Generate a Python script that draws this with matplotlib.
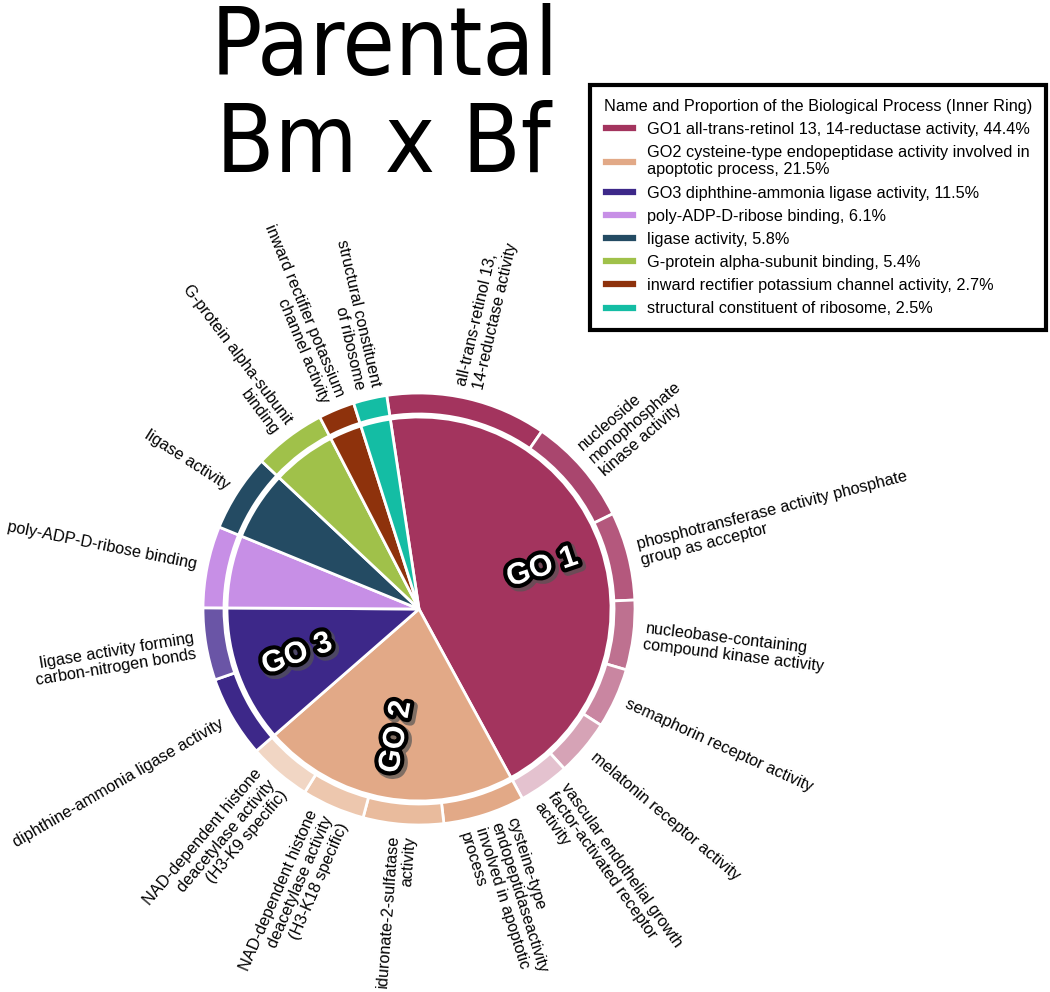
import numpy as np
import matplotlib
matplotlib.use("Agg")
import matplotlib.pyplot as plt
import matplotlib.patheffects as pe
from matplotlib.lines import Line2D
from matplotlib import font_manager

# inner ring: biological process groups (percent of total)
inner_labels = [
    "GO1 all-trans-retinol 13, 14-reductase activity",
    "GO2 cysteine-type endopeptidase activity involved in\napoptotic process",
    "GO3 diphthine-ammonia ligase activity",
    "poly-ADP-D-ribose binding",
    "ligase activity",
    "G-protein alpha-subunit binding",
    "inward rectifier potassium channel activity",
    "structural constituent of ribosome",
]
inner_values = [44.4, 21.5, 11.5, 6.1, 5.8, 5.4, 2.7, 2.5]
inner_colors = ["#A3345E", "#E2A987", "#3D2889", "#C78FE6",
                "#244B63", "#A0C14A", "#8E320C", "#14BDA4"]
go_tags = ["GO 1", "GO 2", "GO 3"]

# outer ring: terms inside each group
outer_labels = [
    "all-trans-retinol 13,\n14-reductase activity",
    "nucleoside\nmonophosphate\nkinase activity",
    "phosphotransferase activity phosphate\ngroup as acceptor",
    "nucleobase-containing\ncompound kinase activity",
    "semaphorin receptor activity",
    "melatonin receptor activity",
    "vascular endothelial growth\nfactor-activated receptor\nactivity",
    "cysteine-type\nendopeptidaseactivity\ninvolved in apoptotic\nprocess",
    "iduronate-2-sulfatase\nactivity",
    "NAD-dependent histone\ndeacetylase activity\n(H3-K18 specific)",
    "NAD-dependent histone\ndeacetylase activity\n(H3-K9 specific)",
    "diphthine-ammonia ligase activity",
    "ligase activity forming\ncarbon-nitrogen bonds",
    "poly-ADP-D-ribose binding",
    "ligase activity",
    "G-protein alpha-subunit\nbinding",
    "inward rectifier potassium\nchannel activity",
    "structural constituent\nof ribosome",
]
outer_values = [12.0, 8.1, 6.6, 5.2, 4.5, 4.2, 3.8,
                6.1, 6.0, 4.7, 4.7,
                6.1, 5.4,
                6.1, 5.8, 5.4, 2.7, 2.5]
outer_colors = ["#A3345E", "#A9466E", "#B4587D", "#BE7190", "#C986A1", "#D6A3B6", "#E4C2CF",
                "#E2A987", "#E9BB9D", "#EDC7AE", "#F1D6C4",
                "#3D2889", "#6A55A6",
                "#C78FE6", "#244B63", "#A0C14A", "#8E320C", "#14BDA4"]

START = 98.6
W, H = 1050, 992
CX, CY = 419, H - 609

names = {f.name for f in font_manager.fontManager.ttflist}
BASE = "Liberation Sans" if "Liberation Sans" in names else "DejaVu Sans"
plt.rcParams["font.family"] = [BASE, "DejaVu Sans"]


def narrow_font():
    # look for a condensed sans face for the squeezed title
    best = None
    for f in font_manager.fontManager.ttflist:
        if f.style != "normal" or f.weight not in (400, "normal", "regular"):
            continue
        tag = (f.name + " " + str(f.stretch)).lower()
        if "mono" in tag or "serif" in tag and "sans" not in tag:
            continue
        if f.name == "Liberation Sans Narrow":
            return f.fname
        if ("narrow" in tag or "condensed" in tag) and best is None:
            best = f.fname
    return best


def mid_angles(values):
    total = sum(values)
    cum = np.cumsum([0] + list(values[:-1]))
    return [START - 360 * (c + v / 2) / total for c, v in zip(cum, values)]


fig = plt.figure(figsize=(W / 100, H / 100), dpi=100)
ax = fig.add_axes([0, 0, 1, 1])

ax.pie(inner_values, colors=inner_colors, startangle=START, counterclock=False,
       radius=192, center=(CX, CY),
       wedgeprops=dict(edgecolor="white", linewidth=2))
ax.pie(outer_values, colors=outer_colors, startangle=START, counterclock=False,
       radius=216, center=(CX, CY),
       wedgeprops=dict(width=21, edgecolor="white", linewidth=2))

ax.set_xlim(0, W)
ax.set_ylim(0, H)
ax.set_aspect("equal")
ax.axis("off")

# outer ring labels, radial
r_lab = 227
for lab, ang in zip(outer_labels, mid_angles(outer_values)):
    a = (ang + 180) % 360 - 180
    x = CX + r_lab * np.cos(np.radians(a))
    y = CY + r_lab * np.sin(np.radians(a))
    if -90 <= a <= 90:
        rot, ha = a, "left"
    else:
        rot, ha = a + 180, "right"
    ax.text(x, y, lab, rotation=rot, rotation_mode="anchor", ha=ha, va="center",
            multialignment=ha, fontsize=11.7, linespacing=1.15)

# GO tags on the inner pie
effects = [pe.Stroke(linewidth=7, foreground="#555555", alpha=0.7, offset=(2, -2)),
           pe.Stroke(linewidth=6, foreground="black"), pe.Normal()]
for tag, ang in zip(go_tags, mid_angles(inner_values)):
    a = (ang + 180) % 360 - 180
    rot = a if -90 <= a <= 90 else a + 180
    ax.text(CX + 130 * np.cos(np.radians(a)), CY + 130 * np.sin(np.radians(a)), tag,
            rotation=rot, rotation_mode="anchor", ha="center", va="center",
            fontsize=22, fontweight="bold", color="white", path_effects=effects)

# title (squeezed sans in the original)
nf = narrow_font()
tprops = font_manager.FontProperties(fname=nf) if nf else font_manager.FontProperties(family=BASE)
t1 = ax.text(385, H - 75, "Parental", ha="center", va="baseline", fontsize=75,
             fontproperties=tprops)
t2 = ax.text(383, H - 172, "Bm x Bf", ha="center", va="baseline", fontsize=75,
             fontproperties=tprops)
fig.canvas.draw()
w = t1.get_window_extent().width
if w > 345:
    size = 75 * (340 / w) ** 0.8
    t1.set_fontsize(size)
    t2.set_fontsize(size)

handles = [Line2D([0], [0], color=c, lw=4.5) for c in inner_colors]
leg_labels = [f"{n}, {v}%" for n, v in zip(inner_labels, inner_values)]
leg = ax.legend(handles, leg_labels, loc="upper left",
                bbox_to_anchor=(590 / W, 1 - 85 / H), bbox_transform=fig.transFigure,
                borderaxespad=0, fontsize=11.7, title_fontsize=11.7,
                title="Name and Proportion of the Biological Process (Inner Ring)",
                fancybox=False, edgecolor="black", framealpha=1,
                handlelength=1.7, handletextpad=0.85, labelspacing=0.5, borderpad=0.85)
leg.get_frame().set_linewidth(3)

fig.savefig("out.png", dpi=100)
